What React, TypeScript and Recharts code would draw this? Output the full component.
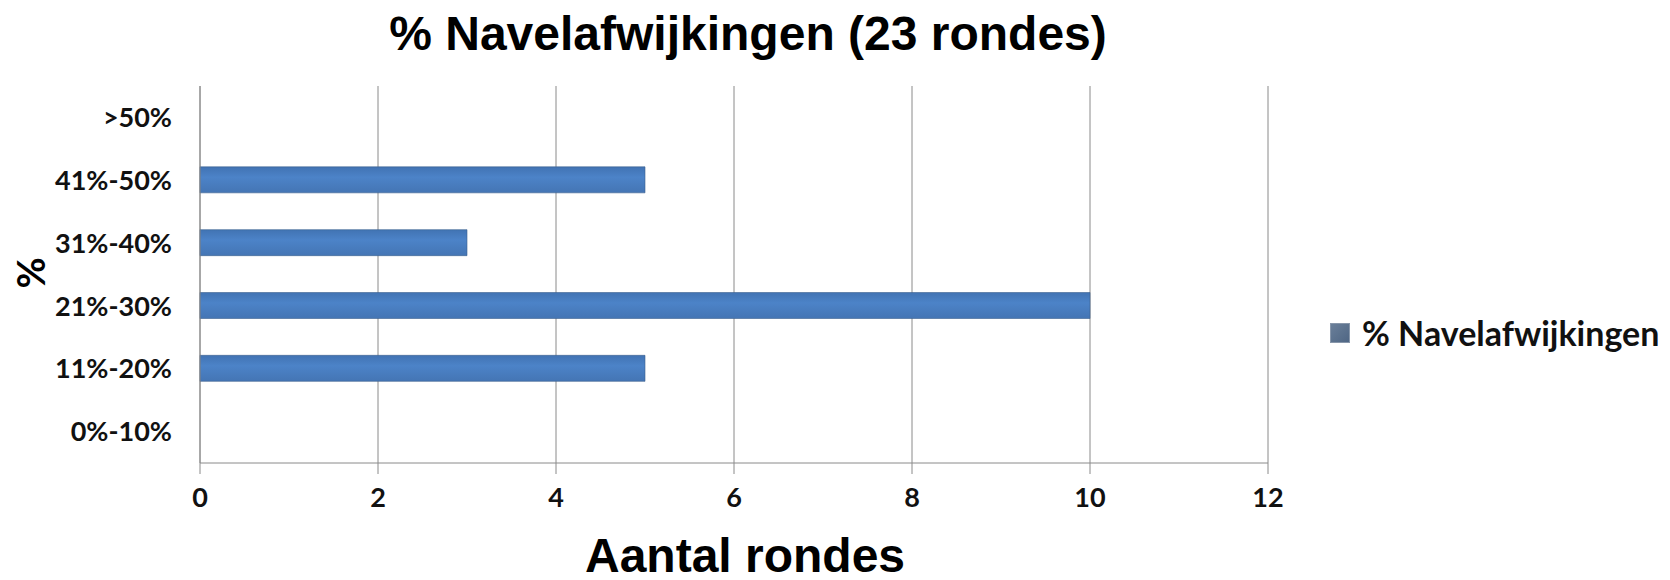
import { Bar, BarChart, CartesianGrid, XAxis, YAxis } from "recharts";

// Categorieën van onder naar boven zoals in de grafiek
const categories = ["0%-10%", "11%-20%", "21%-30%", "31%-40%", "41%-50%", ">50%"];
const rondes = [0, 5, 10, 3, 5, 0];
const xTicks = [0, 2, 4, 6, 8, 10, 12];
const seriesName = "% Navelafwijkingen";

const data = categories.map((c, i) => ({ cat: c, value: rondes[i] }));

const LABEL_FONT = "Lato, 'Open Sans', sans-serif";
const TITLE_FONT = "'Liberation Sans', Arial, sans-serif";

export default function App() {
  return (
    <div style={{ position: "absolute", left: 0, top: 0, width: 1670, height: 580, background: "#fff" }}>
      <BarChart
        width={1670}
        height={580}
        data={data}
        layout="vertical"
        margin={{ top: 86, right: 402, bottom: 57, left: 0 }}
        barSize={26}
      >
        <defs>
          <linearGradient id="barFill" x1="0" y1="0" x2="0" y2="1">
            <stop offset="0%" stopColor="#4173b3" />
            <stop offset="40%" stopColor="#4c83c8" />
            <stop offset="100%" stopColor="#4475b4" />
          </linearGradient>
        </defs>
        <CartesianGrid vertical horizontal={false} stroke="#8a8a8a" />
        <XAxis
          type="number"
          domain={[0, 12]}
          ticks={xTicks}
          height={60}
          axisLine={{ stroke: "#8a8a8a" }}
          tickLine={{ stroke: "#8a8a8a" }}
          tickSize={11}
          tickMargin={14}
          tick={{ fill: "#111", fontSize: 27, fontWeight: 700, fontFamily: LABEL_FONT }}
        />
        <YAxis
          type="category"
          dataKey="cat"
          reversed
          width={200}
          axisLine={{ stroke: "#8a8a8a" }}
          tickLine={false}
          tickSize={0}
          tickMargin={28}
          tick={{ fill: "#111", fontSize: 27, fontWeight: 700, fontFamily: LABEL_FONT }}
        />
        <Bar dataKey="value" fill="url(#barFill)" stroke="#3a5f8f" strokeWidth={0.6} isAnimationActive={false} />
      </BarChart>

      <div
        style={{
          position: "absolute",
          left: 0,
          width: 1496,
          top: 6,
          textAlign: "center",
          fontFamily: TITLE_FONT,
          fontWeight: 700,
          fontSize: 48,
          lineHeight: "56px",
          color: "#000",
        }}
      >
        % Navelafwijkingen (23 rondes)
      </div>

      <div
        style={{
          position: "absolute",
          left: 0,
          width: 1490,
          top: 532,
          textAlign: "center",
          fontFamily: TITLE_FONT,
          fontWeight: 700,
          fontSize: 48,
          lineHeight: "48px",
          color: "#000",
        }}
      >
        Aantal rondes
      </div>

      <div
        style={{
          position: "absolute",
          left: 30,
          top: 273,
          transform: "translate(-50%, -50%) rotate(-90deg)",
          fontFamily: LABEL_FONT,
          fontWeight: 700,
          fontSize: 38,
          lineHeight: "40px",
          color: "#000",
        }}
      >
        %
      </div>

      <div
        style={{
          position: "absolute",
          left: 1330,
          top: 313,
          display: "flex",
          alignItems: "center",
          fontFamily: LABEL_FONT,
          fontWeight: 700,
          fontSize: 34,
          lineHeight: "40px",
          color: "#111",
        }}
      >
        <span
          style={{
            display: "inline-block",
            width: 20,
            height: 20,
            marginRight: 12,
            background: "linear-gradient(135deg, #6a7f99, #4f6684)",
            border: "1px solid #8796aa",
            boxSizing: "border-box",
          }}
        />
        {seriesName}
      </div>
    </div>
  );
}
